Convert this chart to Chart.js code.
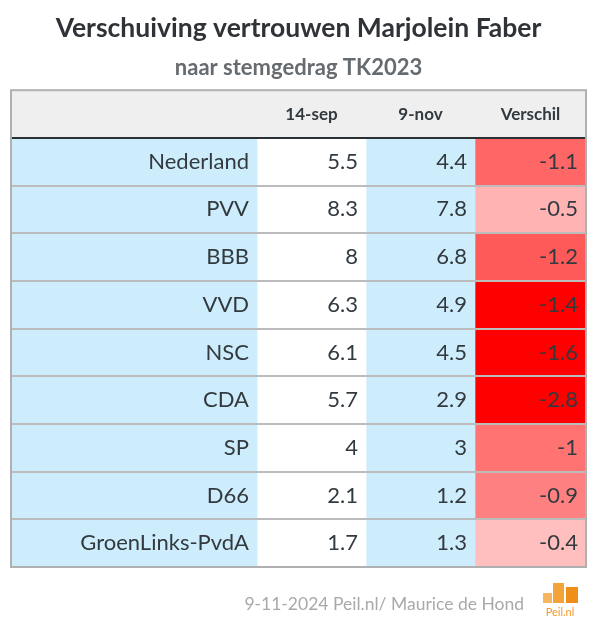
<!DOCTYPE html>
<html>
<head>
<meta charset="utf-8">
<script src="https://cdn.jsdelivr.net/npm/chart.js@4.4.1/dist/chart.umd.min.js"></script>
<style>
  html, body { margin: 0; padding: 0; background: #fff; }
  #wrap { width: 591px; height: 630px; }
</style>
</head>
<body>
<div id="wrap"><canvas id="tableChart"></canvas></div>
<script>
// Data
const parties = ['Nederland', 'PVV', 'BBB', 'VVD', 'NSC', 'CDA', 'SP', 'D66', 'GroenLinks-PvdA'];
const columns = ['14-sep', '9-nov', 'Verschil'];
const sep14 = [5.5, 8.3, 8, 6.3, 6.1, 5.7, 4, 2.1, 1.7];
const nov9 = [4.4, 7.8, 6.8, 4.9, 4.5, 2.9, 3, 1.2, 1.3];
const verschil = [-1.1, -0.5, -1.2, -1.4, -1.6, -2.8, -1, -0.9, -0.4];

// Layout of the table (column edges in px-units of the x scale)
const colEdges = [0, 246, 355, 464, 575];
const rowLabels = [''].concat(parties);   // first row = header
const FONT = 'Lato';
const TEXT = '#333a3f';
const HEADER_BG = '#efefef';
const BLUE = '#cdedfc';

function diffColor(v) {
    const a = Math.abs(v);
    const g = a >= 1.3 ? 0 : Math.round(242 - 127 * a);
    return 'rgb(255,' + g + ',' + g + ')';
}

function columnData(j) {
    return rowLabels.map(() => [colEdges[j], colEdges[j + 1]]);
}

const colFills = [
    rowLabels.map((l, i) => i === 0 ? HEADER_BG : BLUE),
    rowLabels.map((l, i) => i === 0 ? HEADER_BG : '#ffffff'),
    rowLabels.map((l, i) => i === 0 ? HEADER_BG : BLUE),
    rowLabels.map((l, i) => i === 0 ? HEADER_BG : diffColor(verschil[i - 1]))
];

const valueCols = [sep14, nov9, verschil];

const tablePlugin = {
    id: 'tablePlugin',
    afterDatasetsDraw(chart) {
        const { ctx, chartArea: a, scales: { x, y } } = chart;
        ctx.save();

        // row separators
        for (let i = 1; i < rowLabels.length; i++) {
            const yy = Math.round((y.getPixelForValue(i - 1) + y.getPixelForValue(i)) / 2);
            ctx.beginPath();
            ctx.lineWidth = 2;
            ctx.strokeStyle = i === 1 ? '#2b3035' : '#bcbcbc';
            ctx.moveTo(a.left, yy);
            ctx.lineTo(a.right, yy);
            ctx.stroke();
        }

        // outer frame
        ctx.lineWidth = 2;
        ctx.strokeStyle = '#b0b0b0';
        ctx.strokeRect(a.left, a.top, a.right - a.left, a.bottom - a.top);

        // header texts
        ctx.fillStyle = TEXT;
        ctx.textBaseline = 'middle';
        ctx.textAlign = 'center';
        ctx.font = 'bold 17px ' + FONT;
        columns.forEach((c, j) => {
            const cx = (x.getPixelForValue(colEdges[j + 1]) + x.getPixelForValue(colEdges[j + 2])) / 2;
            ctx.fillText(c, cx, y.getPixelForValue(0));
        });

        // body
        ctx.textAlign = 'right';
        ctx.font = '22px ' + FONT;
        parties.forEach((p, i) => {
            const cy = y.getPixelForValue(i + 1);
            ctx.fillText(p, x.getPixelForValue(colEdges[1]) - 8, cy);
            valueCols.forEach((vals, j) => {
                ctx.fillText(String(vals[i]), x.getPixelForValue(colEdges[j + 2]) - 8, cy);
            });
        });
        ctx.restore();
    },
    afterDraw(chart) {
        const { ctx } = chart;
        ctx.save();
        // source line
        ctx.fillStyle = '#a9a9a9';
        ctx.font = '17.5px ' + FONT;
        ctx.textAlign = 'right';
        ctx.textBaseline = 'middle';
        ctx.fillText('9-11-2024 Peil.nl/ Maurice de Hond', 524, 604);
        // logo
        ctx.fillStyle = '#f6b660';
        ctx.fillRect(543, 593, 9, 10);
        ctx.fillStyle = '#f4a338';
        ctx.fillRect(553, 583, 11, 20);
        ctx.fillStyle = '#ef8f1a';
        ctx.fillRect(566, 587, 12, 16);
        ctx.fillStyle = '#f09a2a';
        ctx.font = '11px ' + FONT;
        ctx.textAlign = 'center';
        ctx.fillText('Peil.nl', 560, 612);
        ctx.restore();
    }
};

const ctx = document.getElementById('tableChart').getContext('2d');
new Chart(ctx, {
    type: 'bar',
    data: {
        labels: rowLabels,
        datasets: colFills.map((fill, j) => ({
            data: columnData(j),
            backgroundColor: fill,
            borderWidth: 0,
            grouped: false,
            barPercentage: 1,
            categoryPercentage: 1
        }))
    },
    options: {
        indexAxis: 'y',
        responsive: true,
        maintainAspectRatio: false,
        animation: false,
        layout: {
            padding: { left: 11, right: 5, top: 0, bottom: 63 }
        },
        scales: {
            x: { type: 'linear', min: colEdges[0], max: colEdges[colEdges.length - 1], display: false },
            y: { display: false }
        },
        plugins: {
            legend: { display: false },
            tooltip: { enabled: false },
            title: {
                display: true,
                text: 'Verschuiving vertrouwen Marjolein Faber',
                color: '#2f3337',
                font: { family: FONT, size: 26.5, weight: 'bold' },
                padding: { top: 13, bottom: 6 }
            },
            subtitle: {
                display: true,
                text: 'naar stemgedrag TK2023',
                color: '#666b70',
                font: { family: FONT, size: 22, weight: 'bold' },
                padding: { top: 4, bottom: 9 }
            }
        }
    },
    plugins: [tablePlugin]
});
</script>
</body>
</html>
